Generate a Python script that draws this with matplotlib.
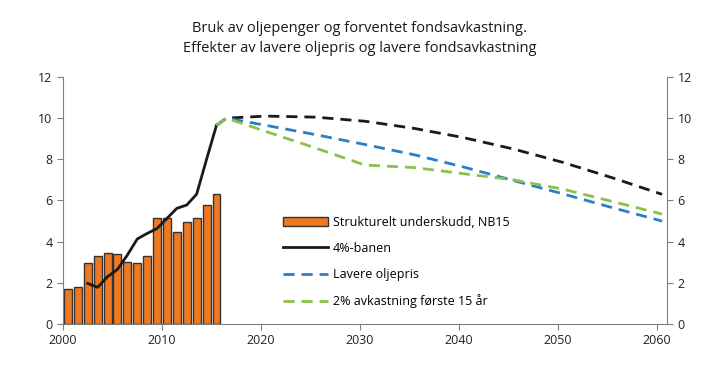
import numpy as np
import matplotlib
matplotlib.use("Agg")
import matplotlib.pyplot as plt

plt.rcParams['font.family'] = ['Open Sans', 'DejaVu Sans']

# data
bar_years = list(range(2000, 2016))
underskudd = [1.70, 1.81, 2.95, 3.30, 3.43, 3.40, 3.01, 2.95, 3.30, 5.13, 5.16, 4.48, 4.95, 5.15, 5.78, 6.33]

line_years = list(range(2002, 2016))
banen4 = [1.97, 1.78, 2.30, 2.65, 3.35, 4.13, 4.40, 4.64, 5.13, 5.62, 5.78, 6.31, 8.0, 9.65]

proj_years = [2015, 2016, 2020, 2025, 2030, 2035, 2040, 2045, 2050, 2055, 2060]
banen4_proj = [9.65, 10.0, 10.1, 10.05, 9.85, 9.5, 9.05, 8.5, 7.85, 7.1, 6.3]
lavere_olje = [9.65, 10.0, 9.65, 9.2, 8.72, 8.22, 7.62, 6.97, 6.32, 5.65, 5.0]
avkast2 = [9.65, 10.0, 9.35, 8.55, 7.72, 7.6, 7.3, 7.0, 6.55, 5.95, 5.34]

off = 0.5  # values sit in the middle of each year

fig = plt.figure(figsize=(7.19, 3.90), dpi=100)
ax = fig.add_axes([0.0876, 0.1692, 0.8401, 0.6334])

orange = '#F07820'
b = ax.bar(np.array(bar_years) + off, underskudd, width=0.8, color=orange,
           edgecolor='#333333', linewidth=1.0, zorder=2)
l1, = ax.plot(np.array(line_years) + off, banen4, color='#1a1a1a', lw=2, zorder=3)
ax.plot(np.array(proj_years) + off, banen4_proj, color='#1a1a1a', lw=2, dashes=(4, 2.5), zorder=3)
l2, = ax.plot(np.array(proj_years) + off, lavere_olje, color='#2a7fc9', lw=2, dashes=(4, 2.5), zorder=3)
l3, = ax.plot(np.array(proj_years) + off, avkast2, color='#8dc04a', lw=2, dashes=(4, 2.5), zorder=4)

ax.set_xlim(2000, 2061)
ax.set_ylim(0, 12)
ax.set_xticks(range(2000, 2061, 10))
ax.set_yticks(range(0, 13, 2))

spine_col = '#808080'
for s in ['left', 'bottom', 'right']:
    ax.spines[s].set_color(spine_col)
ax.spines['top'].set_visible(False)
ax.tick_params(axis='both', colors=spine_col, labelcolor='#222222', labelsize=9,
               direction='out', length=4)
ax.tick_params(axis='y', right=True, labelright=True)

fig.suptitle('Bruk av oljepenger og forventet fondsavkastning.\n'
             'Effekter av lavere oljepris og lavere fondsavkastning',
             fontsize=10.5, y=0.945, color='#1a1a1a', linespacing=1.45)

ax.legend([b, l1, l2, l3],
          ['Strukturelt underskudd, NB15', '4%-banen', 'Lavere oljepris', '2% avkastning første 15 år'],
          loc='upper left', bbox_to_anchor=(0.345, 0.484), frameon=False, fontsize=9,
          handlelength=3.6, labelspacing=1.05, handletextpad=0.4)

fig.savefig('out.png', dpi=100)
